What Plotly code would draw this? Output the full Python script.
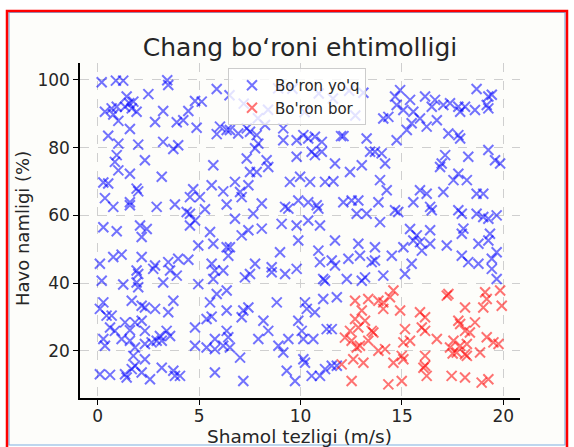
import plotly.graph_objects as go

# ---- data ----
blue_x = [
    0.2, 0.9, 1.26, 3.43, 3.48, 2.5, 5.87, 1.43, 1.56, 1.76, 1.35, 1.68, 0.36, 0.69, 0.94, 0.77,
    1.92, 3.23, 4.8, 5.13, 4.47, 2.83, 3.9, 4.22, 1.02, 1.59, 0.52, 1.02, 2.0, 3.23, 3.73, 3.97,
    4.88, 6.03, 5.87, 6.36, 2.33, 0.94, 0.85, 1.02, 1.59, 3.16, 5.7, 0.28, 0.52, 1.92, 2.0, 4.71,
    4.55, 5.04, 5.62, 6.19, 0.36, 0.77, 1.59, 1.59, 2.91, 3.81, 4.39, 4.55, 4.8, 5.29, 6.36, 0.28,
    0.94, 2.09, 2.42, 4.55, 5.54,
    2.17, 4.96, 5.7, 6.36, 0.11, 0.77, 1.18, 2.17, 1.92, 2.0, 2.83, 2.74, 3.48, 3.57, 3.97, 4.47,
    5.62, 5.78, 6.19, 0.2, 1.26, 1.92, 2.0, 3.23, 3.9, 4.96, 5.7, 5.87, 6.36, 0.28, 0.11, 1.68,
    2.17, 2.33, 2.83, 3.73, 3.48, 5.54, 5.37, 5.62, 6.36, 0.44, 0.69, 1.35, 0.61, 0.85, 1.59, 1.84,
    2.17, 2.33, 3.4, 3.07, 2.91, 3.57, 4.8, 0.28, 0.36, 1.18, 1.59, 1.84, 2.33, 2.66, 3.16, 4.8,
    5.37, 5.78, 5.78, 6.36, 6.19, 1.76, 2.33, 1.84, 1.68, 1.43, 1.35, 2.17, 2.58, 3.16, 3.73, 3.81,
    0.11, 0.61, 5.78, 4.06,
    6.52, 6.93, 7.35, 7.51, 7.84, 8.25, 9.15, 9.15, 9.81, 10.14, 10.38, 10.71, 11.05, 12.0, 12.12,
    13.26, 7.92, 7.76, 7.35, 8.33, 8.41, 7.51, 7.84, 6.77, 7.02, 7.1, 7.43, 9.48, 9.98, 10.47,
    10.55, 10.71, 11.05, 9.81, 11.7, 12.44, 13.02, 13.43, 11.21, 11.62, 9.24, 9.4, 9.89, 10.38,
    10.8, 10.88, 12.11, 12.52, 12.85, 12.77, 13.26, 8.09, 7.67, 6.77, 9.07, 9.81, 10.38, 10.96,
    7.43, 8.09,
    6.5, 7.2, 8.9, 9.6, 10.9, 11.6, 12.4, 13.1, 7.9, 10.2, 12.7, 8.4,
    7.1, 6.52, 6.44, 9.89, 8.99, 7.76, 8.58, 8.58, 9.24, 9.81, 7.26, 7.51, 11.7, 10.88, 10.96,
    11.54, 11.7, 12.36, 12.85, 12.93, 13.51, 11.12, 11.21, 12.28, 13.02, 13.18, 7.18, 7.43, 7.1,
    8.83, 10.22, 10.31, 10.71, 11.12, 11.79, 8.17, 8.41, 7.92, 8.91, 9.15, 9.4, 9.89, 10.06,
    10.14, 10.63, 11.29, 11.54, 6.44, 6.52, 7.02, 7.18, 9.32, 9.73, 10.14, 10.22, 10.55, 10.96,
    11.21, 11.54, 11.79,
    18.68, 14.91, 14.66, 15.4, 16.14, 16.63, 16.47, 17.04, 17.37, 17.78, 18.11, 17.87, 18.6,
    19.26, 19.43, 19.18, 19.26, 14.74, 15.07, 15.56, 15.89, 16.22, 16.72, 15.48, 15.24, 14.08,
    14.33, 14.74, 17.29, 17.78, 17.87, 13.67, 14.0, 14.17, 17.13, 16.96, 16.88, 18.27, 19.26,
    19.59, 19.84, 17.78, 17.54, 18.2, 13.92, 14.25, 15.89, 16.22, 17.04, 15.56, 16.39, 16.47,
    13.84, 14.66, 14.82, 18.68, 19.01, 17.78, 17.95, 18.68, 19.01, 19.26, 19.67, 13.92, 15.4,
    16.39, 18.03,
    15.73, 15.89, 16.39, 15.98, 15.07, 15.56, 17.21, 17.95, 18.77, 19.26, 19.34, 19.67, 17.95,
    18.27, 18.77, 19.43, 19.43, 19.67, 13.67, 13.67, 14.5, 15.48, 15.15, 14.08,
]
blue_y = [
    99.3, 99.8, 99.8, 99.9, 98.5, 95.8, 97.3, 95.1, 93.1, 93.6, 92.1, 91.6, 90.6, 91.6, 92.1, 89.8,
    90.6, 90.8, 93.8, 93.6, 90.8, 87.6, 87.5, 88.1, 87.9, 85.5, 83.5, 81.2, 80.9, 81.7, 79.6, 80.7,
    85.9, 86.2, 84.0, 85.2, 76.3, 77.8, 75.8, 73.3, 72.3, 71.4, 74.8, 69.7, 69.4, 67.9, 67.1, 67.7,
    65.4, 65.4, 68.9, 67.1, 65.1, 62.5, 63.9, 63.0, 62.5, 63.2, 61.0, 60.5, 58.5, 61.8, 63.2, 56.5,
    55.3, 57.0, 56.0, 57.0, 55.1,
    53.6, 51.1, 51.6, 50.6, 45.7, 47.7, 48.4, 47.7, 43.7, 42.7, 45.2, 44.2, 46.2, 43.7, 47.2, 46.9,
    45.7, 43.7, 43.7, 40.7, 39.6, 40.2, 38.8, 40.2, 42.2, 39.7, 41.2, 36.8, 37.8, 34.3, 32.4, 34.8,
    33.3, 32.8, 32.4, 34.8, 31.4, 34.3, 29.4, 30.1, 31.9, 30.4, 30.4, 28.4, 26.9, 25.9, 26.1, 28.4,
    28.9, 25.9, 25.9, 24.4, 23.0, 24.4, 26.9, 23.5, 21.5, 23.5, 23.0, 21.0, 22.0, 22.5, 23.0, 21.5,
    21.0, 23.5, 20.5, 25.9, 21.5, 18.5, 17.5, 15.6, 14.6, 12.1, 13.1, 13.6, 11.6, 15.0, 14.1, 12.6,
    13.1, 12.9, 13.6, 12.6,
    85.2, 84.2, 85.7, 84.7, 83.7, 86.7, 85.7, 82.2, 82.2, 83.7, 82.7, 83.2, 81.7, 83.4, 83.4,
    82.7, 81.2, 79.8, 76.8, 76.3, 74.3, 72.8, 72.8, 69.9, 66.9, 65.4, 68.9, 69.9, 71.4, 69.9,
    78.8, 77.8, 78.8, 77.3, 75.3, 72.8, 74.8, 78.8, 69.9, 70.1, 62.5, 62.0, 64.4, 63.9,
    63.0, 62.0, 63.9, 64.4, 64.4, 60.5, 60.5, 63.5, 60.5, 59.0, 57.5, 57.0, 58.5, 57.0,
    55.6, 56.1,
    95.5, 93.0, 97.5, 97.4, 96.0, 94.5, 96.8, 96.2, 88.7, 90.5, 89.5, 91.2,
    54.1, 50.6, 48.1, 52.6, 49.1, 45.7, 44.7, 43.2, 42.7, 44.2, 41.7, 42.7, 52.6, 49.6, 46.2,
    46.7, 45.2, 47.2, 51.6, 48.1, 46.2, 41.2, 40.7, 41.2, 40.7, 41.7, 31.9, 32.8, 29.9,
    34.3, 34.3, 32.4, 31.4, 35.3, 35.8, 28.9, 25.9, 23.5, 21.5, 19.5, 23.5, 28.9, 25.9,
    23.5, 23.5, 26.4, 26.4, 24.0, 21.0, 18.0, 11.1, 14.1, 11.1, 17.5, 16.5, 12.6, 12.6,
    14.6, 15.6, 15.6,
    97.3, 97.0, 95.1, 94.1, 95.1, 94.1, 92.1, 92.6, 93.1, 92.1, 92.1, 90.6, 91.1,
    95.1, 95.6, 92.6, 91.6, 92.6, 91.1, 90.6, 88.6, 86.2, 88.1, 87.2, 85.2, 88.6,
    89.1, 82.2, 84.2, 83.7, 82.7, 78.8, 78.3, 75.3, 77.8, 75.3, 74.3, 77.3, 79.3,
    76.3, 75.3, 72.3, 70.4, 70.4, 70.4, 67.4, 67.4, 66.4, 66.9, 63.9, 62.5, 61.5,
    63.9, 61.5, 61.0, 66.4, 66.4, 61.5, 60.5, 60.5, 59.5, 59.0, 60.0, 58.0, 56.0,
    55.6, 56.1,
    54.1, 52.1, 51.6, 49.6, 50.6, 52.6, 51.1, 54.6, 51.6, 52.6, 54.6, 49.1, 48.1,
    46.2, 45.7, 47.2, 44.2, 41.2, 50.6, 46.7, 48.1, 45.7, 42.7, 42.2,
]

red_x = [
    12.69, 13.34, 13.02, 12.69, 13.18, 12.85, 12.44, 12.19, 12.52, 12.77, 12.93, 13.51, 13.34,
    12.6, 12.03, 12.52, 13.1,
    14.58, 14.41, 13.84, 14.08, 14.08, 14.91, 15.89, 16.14, 15.98, 16.14, 15.15, 15.4, 15.07,
    13.59, 16.72, 13.84, 14.17, 14.99, 14.58, 15.07, 16.14, 16.14, 16.06, 16.22, 17.21, 17.29,
    18.11, 17.78, 17.87, 18.11, 18.6, 18.35, 17.54, 17.87, 18.2, 17.37, 17.7, 18.11, 18.85,
    19.18, 19.51, 19.76, 19.1, 19.18, 19.01, 19.84, 19.92, 14.33, 14.99, 17.45, 18.11, 18.93,
    19.26, 17.5, 18.2,
]
red_y = [
    34.8, 35.3, 31.9, 29.4, 28.9, 26.9, 25.9, 23.9, 23.0, 21.0, 21.5, 25.9, 23.0,
    17.5, 16.0, 11.1, 16.5,
    37.8, 35.8, 34.8, 34.3, 32.4, 31.9, 31.4, 29.9, 26.9, 25.9, 26.4, 23.0, 22.5,
    25.4, 23.5, 20.0, 20.5, 18.5, 16.5, 17.5, 18.5, 15.6, 15.0, 12.6, 36.3, 36.8,
    32.8, 28.9, 27.9, 25.9, 28.4, 25.4, 23.0, 21.5, 22.0, 21.0, 19.5, 19.0, 19.5,
    24.0, 22.5, 22.0, 37.3, 35.3, 32.8, 37.8, 33.3, 10.1, 11.1, 12.6, 12.1, 10.6,
    11.6, 19.2, 18.5,
]

x_ticks = [0, 5, 10, 15, 20]
y_ticks = [20, 40, 60, 80, 100]

title_text = "Chang bo‘roni ehtimolligi"
x_label = "Shamol tezligi (m/s)"
y_label = "Havo namligi (%)"
name_blue = "Bo'ron yo'q"
name_red = "Bo'ron bor"

FONT = "DejaVu Sans"
TXT = "#262626"
W, H = 574, 447
L, R, T, B = 80, 520, 63, 398  # plot area in pixels


def px(x):
    return (x - L) / (R - L)


def py(y):
    return (B - y) / (B - T)


fig = go.Figure()
fig.add_trace(go.Scatter(
    x=blue_x, y=blue_y, mode="markers", name=name_blue,
    marker=dict(symbol="x-thin", size=10, color="rgba(0,0,255,0.55)",
                line=dict(width=2, color="rgba(0,0,255,0.55)")),
))
fig.add_trace(go.Scatter(
    x=red_x, y=red_y, mode="markers", name=name_red,
    marker=dict(symbol="x-thin", size=10, color="rgba(255,0,0,0.55)",
                line=dict(width=2, color="rgba(255,0,0,0.55)")),
))

fig.update_layout(
    width=W, height=H,
    margin=dict(l=L, r=W - R, t=T, b=H - B, pad=0, autoexpand=False),
    paper_bgcolor="white",
    plot_bgcolor="white",
    font=dict(family=FONT, color=TXT, size=17),
    title=dict(text=title_text, x=0.5, xref="paper", y=1 - 47 / H, yref="container",
               xanchor="center", yanchor="middle", font=dict(size=25, family=FONT, color=TXT)),
    showlegend=True,
    legend=dict(x=px(228), y=py(68), xanchor="left", yanchor="top",
                bgcolor="rgba(255,255,255,0.8)", bordercolor="#cccccc", borderwidth=1,
                itemwidth=36,
                font=dict(size=15, family=FONT, color=TXT)),
    xaxis=dict(range=[-0.87, 20.82], tickvals=x_ticks, ticktext=[str(v) for v in x_ticks],
               automargin=False, ticklabelstandoff=-3,
               showgrid=True, gridcolor="#cfcfcf", griddash="dash", gridwidth=0.8,
               zeroline=False, showline=True, linecolor="black", linewidth=1.5,
               ticks="outside", ticklen=5, tickwidth=1.3, tickcolor="black",
               tickfont=dict(size=17)),
    yaxis=dict(range=[6.07, 105.0], tickvals=y_ticks, ticktext=[str(v) for v in y_ticks],
               automargin=False,
               showgrid=True, gridcolor="#cfcfcf", griddash="dash", gridwidth=0.8,
               zeroline=False, showline=True, linecolor="black", linewidth=1.5,
               ticks="outside", ticklen=5, tickwidth=1.3, tickcolor="black",
               tickfont=dict(size=17)),
    annotations=[
        dict(text=x_label, xref="paper", yref="paper", x=px(299), y=py(436),
             xanchor="center", yanchor="middle", showarrow=False,
             font=dict(size=18.5, family=FONT, color=TXT)),
        dict(text=y_label, xref="paper", yref="paper", x=px(22), y=py(229),
             xanchor="center", yanchor="middle", showarrow=False, textangle=-90,
             font=dict(size=18, family=FONT, color=TXT)),
    ],
    shapes=[
        dict(type="rect", xref="paper", yref="paper", layer="below",
             x0=px(9), x1=px(565), y0=py(445), y1=py(12.5),
             line=dict(color="#7fb0e0", width=1.2), fillcolor="#fdfdfa"),
        dict(type="rect", xref="paper", yref="paper", layer="above",
             x0=px(7), x1=px(567), y0=py(470), y1=py(11),
             line=dict(color="#ff0000", width=2.5), fillcolor="rgba(0,0,0,0)"),
    ],
)

fig.write_html("out.html")
